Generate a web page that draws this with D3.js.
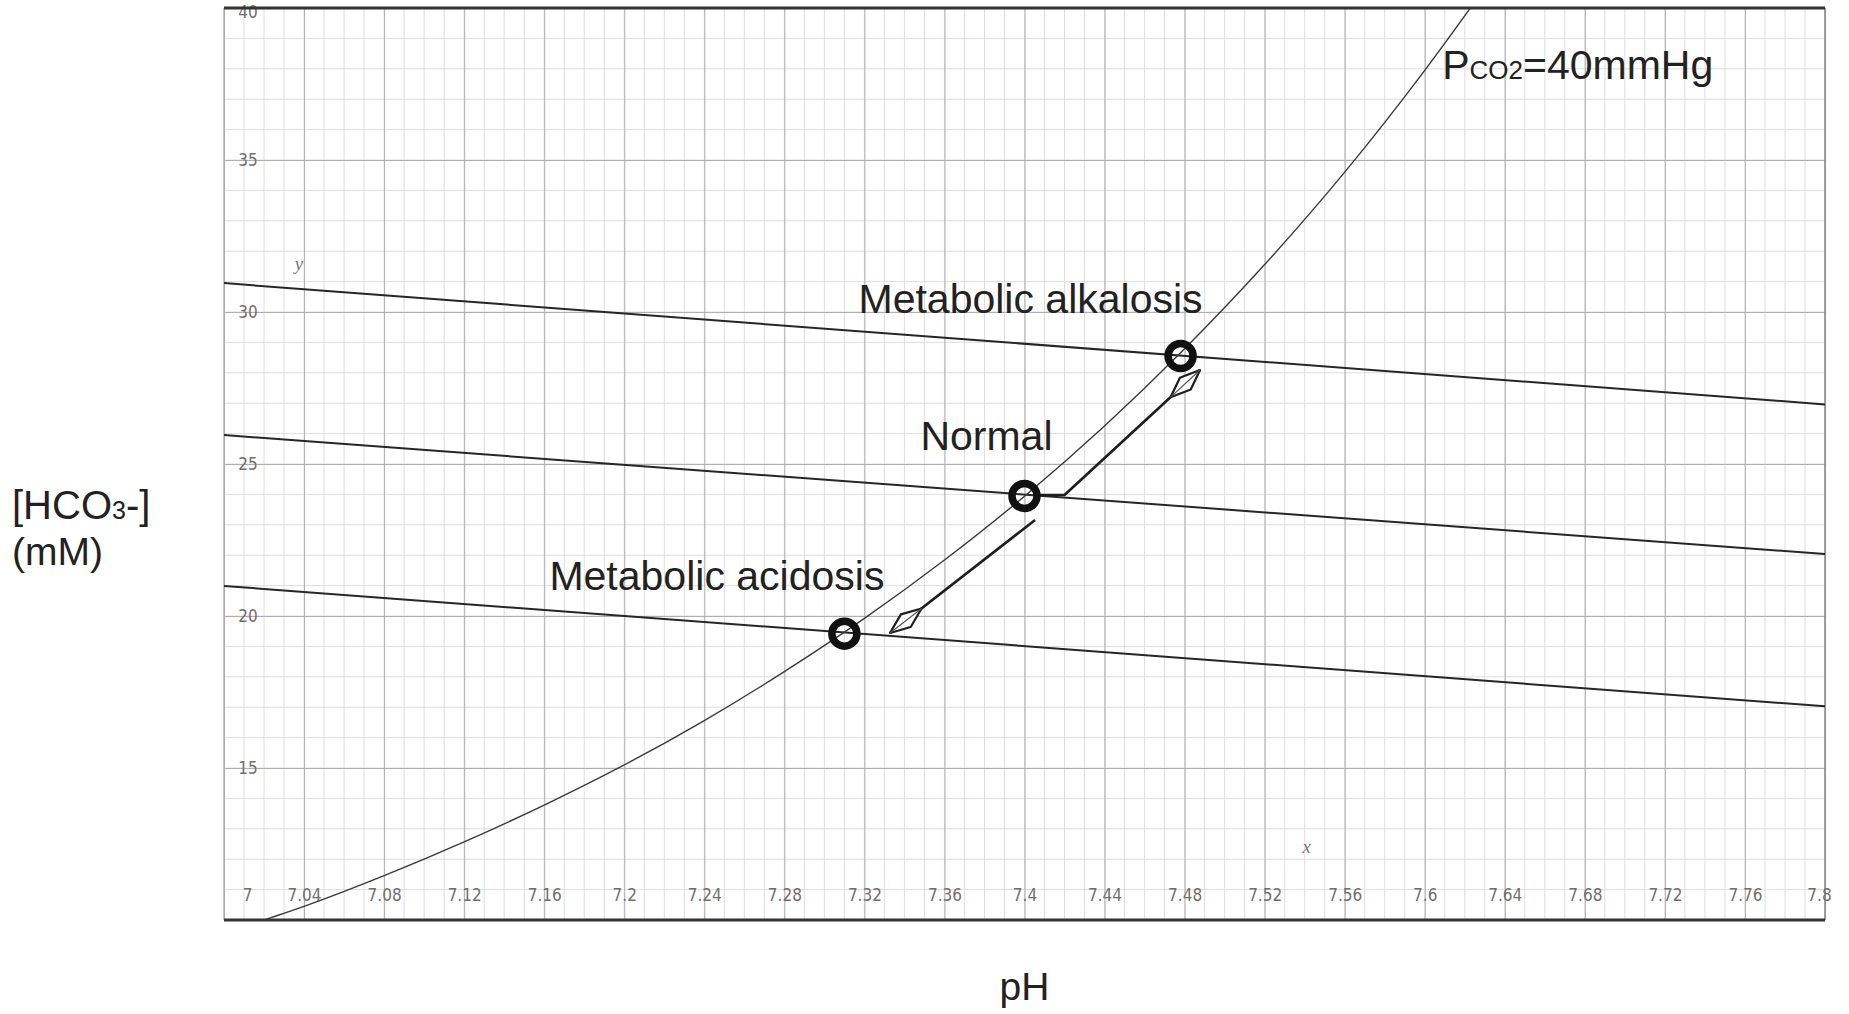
<!DOCTYPE html>
<html>
<head>
<meta charset="utf-8">
<script src="https://cdn.jsdelivr.net/npm/d3@7"></script>
<style>
  html, body { margin: 0; padding: 0; background: #fff; }
  svg { display: block; }
</style>
</head>
<body>
<svg id="chart" width="1849" height="1014"></svg>
<script>
// ---------------- data ----------------
// x tick labels (pH) and y tick labels ([HCO3-], mM)
const xTickValues = [7.00, 7.04, 7.08, 7.12, 7.16, 7.20, 7.24, 7.28, 7.32, 7.36, 7.40,
                     7.44, 7.48, 7.52, 7.56, 7.60, 7.64, 7.68, 7.72, 7.76, 7.80];
const xTickLabels = ["7", "7.04", "7.08", "7.12", "7.16", "7.2", "7.24", "7.28", "7.32", "7.36", "7.4",
                     "7.44", "7.48", "7.52", "7.56", "7.6", "7.64", "7.68", "7.72", "7.76", "7.8"];
const yTickValues = [15, 20, 25, 30, 35, 40];
const yTickLabels = ["15", "20", "25", "30", "35", "40"];

// PCO2 = 40 mmHg isobar (pH, HCO3-)
const isobarPH   = [7.00, 7.02, 7.04, 7.08, 7.12, 7.16, 7.20, 7.24, 7.28, 7.32, 7.36, 7.40, 7.44, 7.48, 7.52, 7.56, 7.60, 7.63];
const isobarHCO3 = [9.55, 10.0, 10.45, 11.46, 12.57, 13.78, 15.10, 16.56, 18.17, 19.92, 21.84, 23.94, 26.25, 28.79, 31.56, 34.60, 37.95, 40.66];

// three buffer lines (end points at pH 7.0 and 7.8)
const bufferPH   = [7.0, 7.8];
const bufferHigh = [30.95, 26.96];
const bufferMid  = [25.95, 22.04];
const bufferLow  = [20.99, 17.03];

// states (circles)
const stateNames = ["Metabolic acidosis", "Normal", "Metabolic alkalosis"];
const statePH    = [7.310, 7.400, 7.478];
const stateHCO3  = [19.42, 23.95, 28.55];
// label anchors (text end / baseline)
const labelPH    = [7.330, 7.414, 7.489];
const labelHCO3  = [20.86, 25.46, 29.97];

// arrows (pH, HCO3) – last point is the head
const arrowUpPH    = [7.405, 7.420, 7.4877];
const arrowUpHCO3  = [23.98, 23.98, 28.09];
const arrowDownPH   = [7.4053, 7.3328];
const arrowDownHCO3 = [23.16, 19.44];

// PCO2 label anchor and axis letters
const pco2LabelPos = [7.6087, 37.65];
const xLetterPos = [7.541, 12.22];
const yLetterPos = [7.0375, 31.38];

// ---------------- layout ----------------
const svg = d3.select("#chart");
const W = 1849, H = 1014;
const m = { left: 224, right: 24, top: 8, bottom: 94 };

const x = d3.scaleLinear().domain([7.0, 7.8]).range([m.left, W - m.right]);
const y = d3.scaleLinear().domain([10, 40]).range([H - m.bottom, m.top]);

svg.append("rect").attr("width", W).attr("height", H).attr("fill", "#fff");

svg.append("defs").append("clipPath").attr("id", "plotClip")
  .append("rect")
  .attr("x", x(7.0)).attr("y", y(40))
  .attr("width", x(7.8) - x(7.0)).attr("height", y(10) - y(40));

// ---------------- grid ----------------
const grid = svg.append("g");
const minorX = d3.range(0, 81).map(i => 7 + i * 0.01);
const minorY = d3.range(10, 41, 1);
grid.selectAll("line.mx").data(minorX).join("line")
  .attr("x1", d => x(d)).attr("x2", d => x(d))
  .attr("y1", y(40)).attr("y2", y(10))
  .attr("stroke", "#dedede").attr("stroke-width", 1);
grid.selectAll("line.my").data(minorY).join("line")
  .attr("x1", x(7.0)).attr("x2", x(7.8))
  .attr("y1", d => y(d)).attr("y2", d => y(d))
  .attr("stroke", "#dedede").attr("stroke-width", 1);

const gx = svg.append("g").attr("transform", `translate(0,${y(10)})`)
  .call(d3.axisBottom(x).tickValues(xTickValues).tickSize(-(y(10) - y(40))).tickFormat(""));
gx.select(".domain").remove();
gx.selectAll(".tick line").attr("stroke", "#b0b0b0").attr("stroke-width", 1);

const gy = svg.append("g").attr("transform", `translate(${x(7.0)},0)`)
  .call(d3.axisLeft(y).tickValues(d3.range(10, 41, 5)).tickSize(-(x(7.8) - x(7.0))).tickFormat(""));
gy.select(".domain").remove();
gy.selectAll(".tick line").attr("stroke", "#b0b0b0").attr("stroke-width", 1);

// side borders
svg.append("line").attr("x1", x(7.0)).attr("x2", x(7.0)).attr("y1", y(40)).attr("y2", y(10))
  .attr("stroke", "#aaa").attr("stroke-width", 1.2);
svg.append("line").attr("x1", x(7.8)).attr("x2", x(7.8)).attr("y1", y(40)).attr("y2", y(10))
  .attr("stroke", "#888").attr("stroke-width", 1.5);

// ---------------- tick labels (inside plot) ----------------
const tickFont = "'Liberation Sans Narrow','DejaVu Sans Condensed','Liberation Sans',sans-serif";
const xl = svg.append("g").attr("transform", `translate(0,${y(10) - 31})`)
  .call(d3.axisBottom(x).tickValues(xTickValues).tickSize(0).tickPadding(0)
    .tickFormat((d, i) => xTickLabels[i]));
xl.select(".domain").remove();
xl.selectAll("text")
  .attr("font-family", tickFont).attr("font-size", 17).attr("fill", "#6f6f6f")
  .attr("dx", (d, i) => i === 0 ? 23 : (i === xTickValues.length - 1 ? -6 : 0));

const yl = svg.append("g").attr("transform", `translate(${x(7.0) + 24},0)`)
  .call(d3.axisRight(y).tickValues(yTickValues).tickSize(0).tickPadding(0)
    .tickFormat((d, i) => yTickLabels[i]));
yl.select(".domain").remove();
yl.selectAll("text")
  .attr("text-anchor", "middle")
  .attr("font-family", tickFont).attr("font-size", 17).attr("fill", "#6f6f6f")
  .attr("dy", (d, i) => i === yTickValues.length - 1 ? "0.55em" : "0.32em");

// ---------------- lines ----------------
const plot = svg.append("g").attr("clip-path", "url(#plotClip)");

const lineGen = d3.line().x(d => x(d[0])).y(d => y(d[1]));

[bufferHigh, bufferMid, bufferLow].forEach(vals => {
  plot.append("path")
    .datum(bufferPH.map((p, i) => [p, vals[i]]))
    .attr("d", lineGen)
    .attr("fill", "none").attr("stroke", "#262626").attr("stroke-width", 2);
});

plot.append("path")
  .datum(isobarPH.map((p, i) => [p, isobarHCO3[i]]))
  .attr("d", lineGen.curve(d3.curveMonotoneX))
  .attr("fill", "none").attr("stroke", "#3a3a3a").attr("stroke-width", 1.4);
lineGen.curve(d3.curveLinear);

// ---------------- arrows ----------------
function drawArrow(phs, hcs) {
  const pts = phs.map((p, i) => [x(p), y(hcs[i])]);
  plot.append("path").datum(pts)
    .attr("d", d3.line())
    .attr("fill", "none").attr("stroke", "#1e1e1e").attr("stroke-width", 2.6)
    .attr("stroke-linejoin", "round");
  const T = pts[pts.length - 1], P = pts[pts.length - 2];
  const dx = T[0] - P[0], dy = T[1] - P[1], len = Math.hypot(dx, dy);
  const ux = dx / len, uy = dy / len, nx = -uy, ny = ux;
  const L = 40, w = 8;
  const B = [T[0] - ux * L, T[1] - uy * L];
  const M = [T[0] - ux * L / 2, T[1] - uy * L / 2];
  const dia = [T, [M[0] + nx * w, M[1] + ny * w], B, [M[0] - nx * w, M[1] - ny * w]];
  plot.append("path")
    .attr("d", "M" + dia.map(p => p.join(",")).join("L") + "Z")
    .attr("fill", "#fff").attr("stroke", "#1e1e1e").attr("stroke-width", 2.2)
    .attr("stroke-linejoin", "round");
  plot.append("line")
    .attr("x1", B[0]).attr("y1", B[1]).attr("x2", T[0]).attr("y2", T[1])
    .attr("stroke", "#555").attr("stroke-width", 1.2);
}
drawArrow(arrowUpPH, arrowUpHCO3);
drawArrow(arrowDownPH, arrowDownHCO3);

// ---------------- state circles ----------------
svg.selectAll("circle.state").data(statePH).join("circle")
  .attr("cx", d => x(d)).attr("cy", (d, i) => y(stateHCO3[i]))
  .attr("r", 12.5)
  .attr("fill", "none").attr("stroke", "#111").attr("stroke-width", 7.5);

// ---------------- frame top / bottom ----------------
svg.append("line").attr("x1", x(7.0)).attr("x2", x(7.8)).attr("y1", y(40)).attr("y2", y(40))
  .attr("stroke", "#333").attr("stroke-width", 3);
svg.append("line").attr("x1", x(7.0)).attr("x2", x(7.8)).attr("y1", y(10)).attr("y2", y(10))
  .attr("stroke", "#333").attr("stroke-width", 3.2);

// ---------------- texts ----------------
const mainFont = "'Liberation Sans', Arial, Helvetica, sans-serif";

svg.selectAll("text.state").data(stateNames).join("text")
  .attr("x", (d, i) => x(labelPH[i])).attr("y", (d, i) => y(labelHCO3[i]))
  .attr("text-anchor", "end")
  .attr("font-family", mainFont).attr("font-size", 41).attr("fill", "#222")
  .text(d => d);

const pco2 = svg.append("text")
  .attr("x", x(pco2LabelPos[0])).attr("y", y(pco2LabelPos[1]))
  .attr("font-family", mainFont).attr("font-size", 41).attr("fill", "#222");
pco2.append("tspan").text("P");
pco2.append("tspan").attr("font-size", 26).text("CO2");
pco2.append("tspan").text("=40mmHg");

svg.append("text").attr("x", x(xLetterPos[0])).attr("y", y(xLetterPos[1]))
  .attr("font-family", "'Liberation Serif', serif").attr("font-style", "italic")
  .attr("font-size", 19).attr("fill", "#777").attr("text-anchor", "middle").text("x");
svg.append("text").attr("x", x(yLetterPos[0])).attr("y", y(yLetterPos[1]))
  .attr("font-family", "'Liberation Serif', serif").attr("font-style", "italic")
  .attr("font-size", 19).attr("fill", "#777").attr("text-anchor", "middle").text("y");

// axis titles
const yt = svg.append("text").attr("x", 12).attr("y", 519)
  .attr("font-family", mainFont).attr("font-size", 40).attr("fill", "#222");
yt.append("tspan").text("[HCO");
yt.append("tspan").attr("font-size", 25).text("3");
yt.append("tspan").text("-]");
svg.append("text").attr("x", 12).attr("y", 565)
  .attr("font-family", mainFont).attr("font-size", 39).attr("fill", "#222").text("(mM)");

svg.append("text").attr("x", (x(7.0) + x(7.8)) / 2).attr("y", 1000)
  .attr("text-anchor", "middle")
  .attr("font-family", mainFont).attr("font-size", 39).attr("fill", "#222").text("pH");
</script>
</body>
</html>
